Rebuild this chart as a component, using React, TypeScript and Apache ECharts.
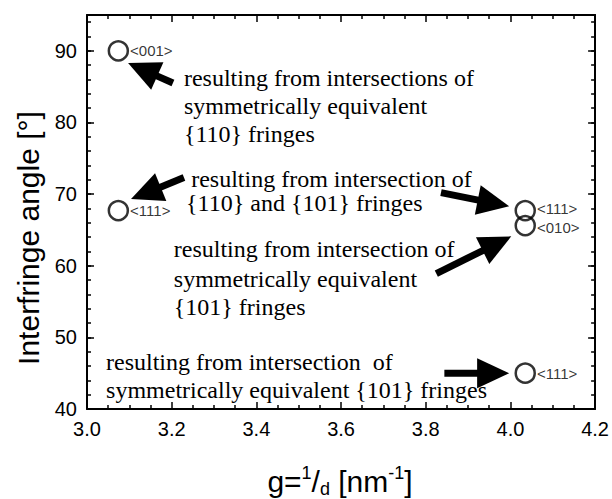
import React, { useEffect, useRef } from 'react';
import * as echarts from 'echarts';

// Zone axes: reciprocal spacing g (nm^-1) and interfringe angle (deg)
const zoneLabels = ['<001>', '<111>', '<111>', '<010>', '<111>'];
const gValues = [3.074, 3.074, 4.035, 4.035, 4.035];
const angles = [90, 67.7, 67.7, 65.6, 45];
// small vertical nudges keep the two stacked labels apart
const labelNudge = [0, 0, -2, 2, 0];

// Axis ranges
const gRange = [3.0, 4.2];
const angleRange = [40, 95];

// Explanatory notes (left edge / line centre in data units)
const noteTexts = [
  'resulting from intersections of',
  'symmetrically equivalent',
  '{110} fringes',
  'resulting from intersection of',
  '{110} and {101} fringes',
  'resulting from intersection of',
  'symmetrically equivalent',
  '{101} fringes',
  'resulting from intersection  of',
  'symmetrically equivalent {101} fringes',
];
const noteX = [3.229, 3.229, 3.229, 3.246, 3.234, 3.205, 3.205, 3.205, 3.045, 3.045];
const noteY = [86.2, 82.3, 78.4, 72.1, 68.7, 62.3, 58.2, 54.3, 46.6, 42.7];

// Arrows from each note to its zone axis
const arrowFromX = [3.203, 3.229, 3.836, 3.825, 3.844];
const arrowFromY = [85.5, 72.3, 70.2, 58.9, 45.0];
const arrowToX = [3.097, 3.104, 3.997, 4.002, 3.997];
const arrowToY = [88.3, 69.3, 68.3, 64.1, 45.0];

const SANS = '"Liberation Sans", Arial, sans-serif';
const SERIF = '"Liberation Serif", "Times New Roman", serif';

export default function App() {
  const ref = useRef<HTMLDivElement>(null);

  useEffect(() => {
    if (!ref.current) return;
    const chart = echarts.init(ref.current, null, { renderer: 'svg' });

    const lineStyle = { color: '#000', width: 2 };
    const majorTick = { show: true, inside: true, length: 7, lineStyle: { color: '#000', width: 1.5 } };
    const minorTick = { show: true, inside: true, length: 4, lineStyle: { color: '#000', width: 1.5 } };

    const xCommon = {
      type: 'value' as const,
      min: gRange[0],
      max: gRange[1],
      interval: 0.2,
      splitLine: { show: false },
      axisLine: { show: true, onZero: false, lineStyle },
      axisTick: majorTick,
      minorTick: { ...minorTick, splitNumber: 4 },
      minorSplitLine: { show: false },
    };

    const yMajor = (position: 'left' | 'right', labels: boolean) => ({
      type: 'value' as const,
      position,
      min: angleRange[0],
      max: angleRange[1],
      interval: 10,
      splitLine: { show: false },
      axisLine: { show: true, onZero: false, lineStyle },
      axisTick: majorTick,
      axisLabel: labels
        ? {
            show: true,
            fontSize: 20,
            fontFamily: SANS,
            color: '#000',
            margin: 10,
            formatter: (v: number) => (v % 10 === 0 ? String(v) : ''),
          }
        : { show: false },
    });

    const yMinor = (position: 'left' | 'right') => ({
      type: 'value' as const,
      position,
      min: angleRange[0],
      max: angleRange[1],
      interval: 2,
      splitLine: { show: false },
      axisLine: { show: false },
      axisTick: minorTick,
      axisLabel: { show: false },
    });

    chart.setOption({
      animation: false,
      backgroundColor: '#fff',
      grid: { left: 87, right: 16, top: 15, bottom: 90, containLabel: false },
      xAxis: [
        {
          ...xCommon,
          position: 'bottom',
          axisLabel: {
            show: true,
            fontSize: 20,
            fontFamily: SANS,
            color: '#000',
            margin: 10,
            formatter: (v: number) => v.toFixed(1),
          },
        },
        { ...xCommon, position: 'top', axisLabel: { show: false } },
      ],
      yAxis: [yMajor('left', true), yMinor('left'), yMajor('right', false), yMinor('right')],
      graphic: [
        {
          type: 'text',
          x: 28,
          y: 238,
          rotation: Math.PI / 2,
          style: {
            text: 'Interfringe angle [°]',
            fontSize: 30,
            fontFamily: SANS,
            fill: '#000',
            align: 'center',
            verticalAlign: 'middle',
          },
        },
        {
          type: 'text',
          x: 340,
          y: 481,
          style: {
            text: '{a|g=}{sup|1}{a|/}{sub|d}{a| [nm}{sup|-1}{a|]}',
            align: 'center',
            verticalAlign: 'middle',
            fill: '#000',
            rich: {
              a: { fontSize: 30, fontFamily: SANS, fill: '#000', lineHeight: 34, verticalAlign: 'middle' },
              sup: { fontSize: 18, fontFamily: SANS, fill: '#000', lineHeight: 16, verticalAlign: 'top' },
              sub: { fontSize: 18, fontFamily: SANS, fill: '#000', lineHeight: 14, verticalAlign: 'bottom' },
            },
          },
        },
      ],
      series: [
        {
          type: 'scatter',
          xAxisIndex: 0,
          yAxisIndex: 0,
          symbol: 'circle',
          symbolSize: 19,
          itemStyle: { color: 'rgba(0,0,0,0)', borderColor: '#000', borderWidth: 2.5 },
          label: {
            show: true,
            position: 'right',
            distance: 1,
            fontSize: 15,
            fontFamily: SANS,
            color: '#000',
            formatter: (p: any) => zoneLabels[p.dataIndex],
          },
          data: gValues.map((g, i) => ({
            value: [g, angles[i]],
            label: { offset: [0, labelNudge[i]] },
          })),
          z: 5,
        },
        {
          type: 'custom',
          xAxisIndex: 0,
          yAxisIndex: 0,
          clip: false,
          z: 4,
          data: arrowFromX.map((x, i) => [x, arrowFromY[i], arrowToX[i], arrowToY[i]]),
          renderItem: (_params: any, api: any) => {
            const p0 = api.coord([api.value(0), api.value(1)]);
            const p1 = api.coord([api.value(2), api.value(3)]);
            const dx = p1[0] - p0[0];
            const dy = p1[1] - p0[1];
            const len = Math.hypot(dx, dy) || 1;
            const ux = dx / len;
            const uy = dy / len;
            const headLen = 32;
            const headHalf = 15;
            const bx = p1[0] - ux * headLen;
            const by = p1[1] - uy * headLen;
            return {
              type: 'group',
              children: [
                {
                  type: 'line',
                  shape: { x1: p0[0], y1: p0[1], x2: bx + ux * 3, y2: by + uy * 3 },
                  style: { stroke: '#000', lineWidth: 7 },
                },
                {
                  type: 'polygon',
                  shape: {
                    points: [
                      [p1[0], p1[1]],
                      [bx - uy * headHalf, by + ux * headHalf],
                      [bx + uy * headHalf, by - ux * headHalf],
                    ],
                  },
                  style: { fill: '#000' },
                },
              ],
            };
          },
        },
        {
          type: 'custom',
          xAxisIndex: 0,
          yAxisIndex: 0,
          clip: false,
          z: 3,
          data: noteX.map((x, i) => [x, noteY[i]]),
          renderItem: (params: any, api: any) => {
            const p = api.coord([api.value(0), api.value(1)]);
            return {
              type: 'text',
              x: p[0],
              y: p[1],
              style: {
                text: noteTexts[params.dataIndex],
                fontSize: 24,
                fontFamily: SERIF,
                fill: '#000',
                align: 'left',
                verticalAlign: 'middle',
              },
            };
          },
        },
      ],
    });

    return () => chart.dispose();
  }, []);

  return <div ref={ref} style={{ width: 612, height: 499, position: 'absolute', left: 0, top: 0 }} />;
}
